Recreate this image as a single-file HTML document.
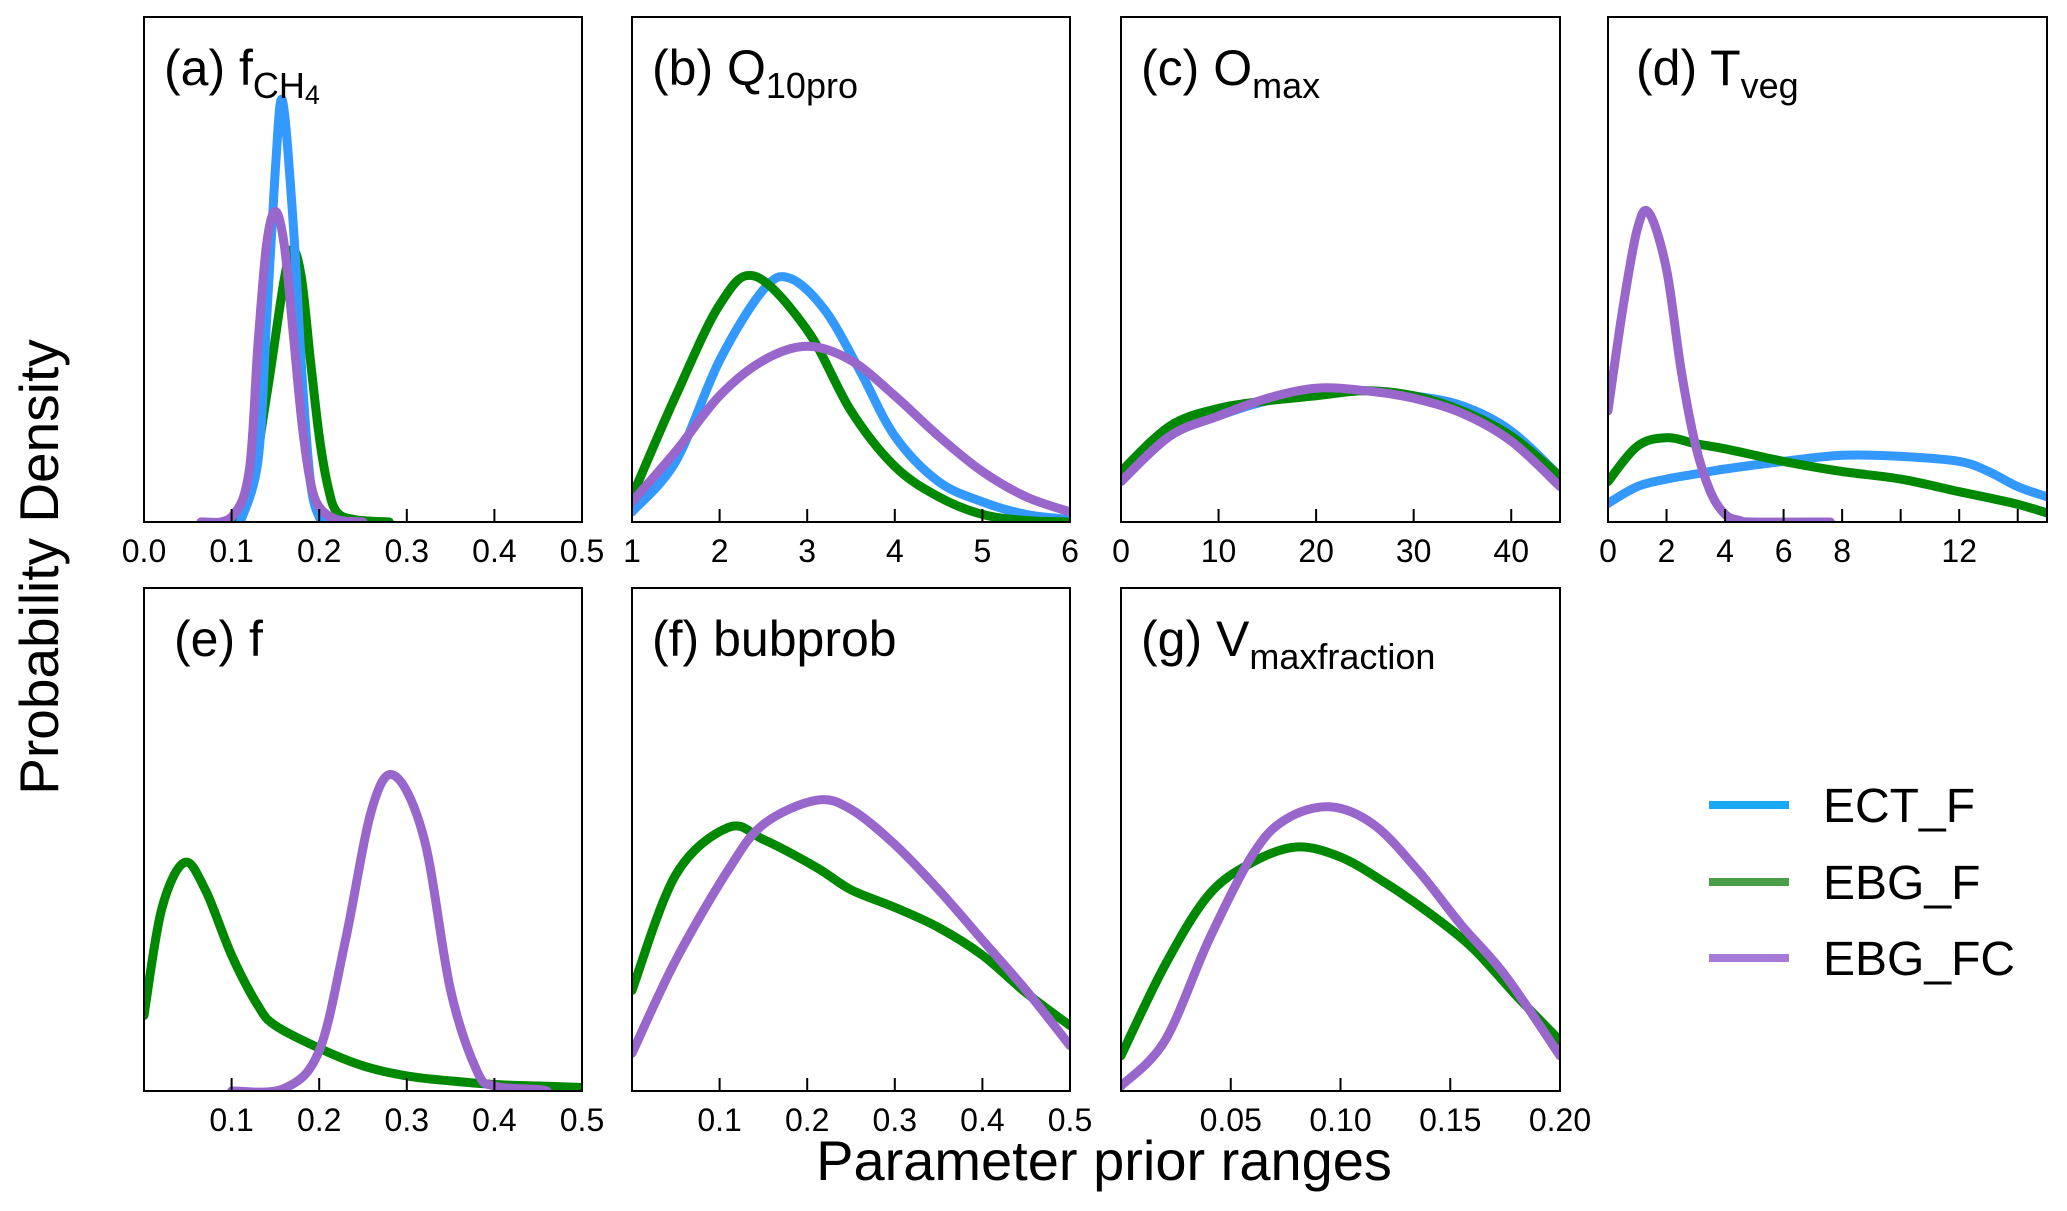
<!DOCTYPE html>
<html><head><meta charset="utf-8"><style>
html,body{margin:0;padding:0;background:#fff;}
svg{display:block;font-family:"Liberation Sans",Arial,sans-serif;}
</style></head><body>
<svg id="chart" width="2067" height="1211" viewBox="0 0 2067 1211" xmlns="http://www.w3.org/2000/svg">
<text x="1104" y="1180" font-size="56" text-anchor="middle">Parameter prior ranges</text>
<text transform="translate(58,567) rotate(-90)" font-size="55" text-anchor="middle">Probability Density</text>
<g>
<g><line x1="1709" y1="805" x2="1789" y2="805" stroke="#1aaaf5" stroke-width="8"/><text x="1823" y="822" font-size="48">ECT_F</text></g>
<g><line x1="1709" y1="882" x2="1789" y2="882" stroke="#4a9e4a" stroke-width="8"/><text x="1823" y="899" font-size="48">EBG_F</text></g>
<g><line x1="1709" y1="958" x2="1789" y2="958" stroke="#a57ad8" stroke-width="8"/><text x="1823" y="975" font-size="48">EBG_FC</text></g>
</g>
</svg>
<script>
// Panel data (x values, density as fraction of panel height)
const aX_blue=[0.11,0.13,0.14,0.15,0.158,0.17,0.18,0.19,0.2,0.21];
const aY_blue=[0,0.12,0.4,0.7,0.835,0.6,0.3,0.08,0.01,0];
const aX_green=[0.1,0.12,0.14,0.16,0.17,0.18,0.19,0.2,0.21,0.22,0.24,0.28];
const aY_green=[0,0.05,0.25,0.48,0.54,0.48,0.32,0.17,0.07,0.02,0.005,0];
const aX_purple=[0.065,0.1,0.12,0.13,0.14,0.15,0.16,0.17,0.18,0.19,0.2,0.22,0.25];
const aY_purple=[0,0.01,0.1,0.35,0.55,0.615,0.55,0.38,0.2,0.08,0.03,0.005,0];
const bX_green=[1,1.5,2,2.4,3,3.5,4,4.5,5,5.5,6];
const bY_green=[0.05,0.25,0.43,0.487,0.38,0.22,0.11,0.05,0.015,0.003,0];
const bX_blue=[1,1.5,2,2.5,2.8,3.2,3.6,4,4.5,5,5.5,6];
const bY_blue=[0.02,0.12,0.32,0.46,0.483,0.42,0.3,0.17,0.08,0.04,0.015,0.005];
const bX_purple=[1,1.5,2,2.5,3,3.5,4,4.5,5,5.5,6];
const bY_purple=[0.04,0.14,0.25,0.32,0.348,0.32,0.25,0.17,0.1,0.05,0.02];
const cX=[0,5,10,15,20,25,30,35,40,45];
const cY_blue=[0.08,0.17,0.21,0.24,0.255,0.26,0.25,0.23,0.18,0.09];
const cY_green=[0.1,0.19,0.225,0.24,0.25,0.26,0.25,0.22,0.17,0.09];
const cY_purple=[0.08,0.17,0.21,0.245,0.265,0.26,0.245,0.215,0.16,0.07];
const dX_purple=[0,0.5,1,1.4,2,2.5,3,3.5,4,4.5,5,7.6];
const dY_purple=[0.22,0.42,0.58,0.612,0.5,0.3,0.15,0.06,0.015,0.003,0,0];
const dX=[0,1,2,3,4,6,8,10,12,13,14,15];
const dY_green=[0.08,0.15,0.167,0.155,0.145,0.12,0.1,0.085,0.06,0.048,0.035,0.018];
const dY_blue=[0.037,0.07,0.085,0.095,0.105,0.12,0.132,0.13,0.12,0.1,0.07,0.05];
const eX_green=[0,0.02,0.046,0.07,0.1,0.13,0.15,0.2,0.25,0.3,0.35,0.4,0.45,0.5];
const eY_green=[0.15,0.36,0.454,0.4,0.27,0.17,0.13,0.085,0.05,0.03,0.02,0.013,0.01,0.007];
const eX_purple=[0.1,0.16,0.2,0.23,0.26,0.286,0.32,0.35,0.38,0.4,0.45,0.46];
const eY_purple=[0,0.005,0.08,0.3,0.56,0.627,0.5,0.2,0.04,0.01,0.003,0];
const fX=[0,0.05,0.11,0.15,0.21,0.25,0.3,0.35,0.4,0.45,0.5];
const fY_green=[0.2,0.43,0.524,0.5,0.445,0.4,0.365,0.325,0.27,0.195,0.13];
const fY_purple=[0.075,0.26,0.44,0.53,0.578,0.56,0.49,0.4,0.3,0.2,0.09];
const gX_green=[0,0.02,0.04,0.06,0.08,0.1,0.12,0.14,0.16,0.18,0.2];
const gY_green=[0.07,0.25,0.39,0.455,0.485,0.465,0.415,0.355,0.285,0.19,0.1];
const gX_purple=[0,0.02,0.04,0.06,0.075,0.095,0.115,0.135,0.155,0.175,0.2];
const gY_purple=[0.01,0.1,0.3,0.47,0.54,0.565,0.53,0.44,0.33,0.23,0.07];

const BLUE="#3399ff",GREEN="#008800",PURPLE="#9966cc";
const panels=[
 {id:"a",x0:144,x1:582,y0:17,y1:522,dom:[0,0.5],ticks:[0,0.1,0.2,0.3,0.4,0.5],labels:["0.0","0.1","0.2","0.3","0.4","0.5"],title:["(a) f","CH","4"],
  series:[[aX_green,aY_green,GREEN],[aX_blue,aY_blue,BLUE],[aX_purple,aY_purple,PURPLE]]},
 {id:"b",x0:632,x1:1070,y0:17,y1:522,dom:[1,6],ticks:[1,2,3,4,5,6],labels:["1","2","3","4","5","6"],title:["(b) Q","10pro"],
  series:[[bX_blue,bY_blue,BLUE],[bX_green,bY_green,GREEN],[bX_purple,bY_purple,PURPLE]]},
 {id:"c",x0:1121,x1:1560,y0:17,y1:522,dom:[0,45],ticks:[0,10,20,30,40],labels:["0","10","20","30","40"],title:["(c) O","max"],
  series:[[cX,cY_blue,BLUE],[cX,cY_green,GREEN],[cX,cY_purple,PURPLE]]},
 {id:"d",x0:1608,x1:2047,y0:17,y1:522,dom:[0,15],ticks:[0,2,4,6,8,10,12,14],labels:["0","2","4","6","8","","12",""],title:["(d) T","veg"],
  series:[[dX,dY_blue,BLUE],[dX,dY_green,GREEN],[dX_purple,dY_purple,PURPLE]]},
 {id:"e",x0:144,x1:582,y0:588,y1:1091,dom:[0,0.5],ticks:[0.1,0.2,0.3,0.4,0.5],labels:["0.1","0.2","0.3","0.4","0.5"],title:["(e) f",""],
  series:[[eX_green,eY_green,GREEN],[eX_purple,eY_purple,PURPLE]]},
 {id:"f",x0:632,x1:1070,y0:588,y1:1091,dom:[0,0.5],ticks:[0.1,0.2,0.3,0.4,0.5],labels:["0.1","0.2","0.3","0.4","0.5"],title:["(f) bubprob",""],
  series:[[fX,fY_green,GREEN],[fX,fY_purple,PURPLE]]},
 {id:"g",x0:1121,x1:1560,y0:588,y1:1091,dom:[0,0.2],ticks:[0.05,0.1,0.15,0.2],labels:["0.05","0.10","0.15","0.20"],title:["(g) V","maxfraction"],
  series:[[gX_green,gY_green,GREEN],[gX_purple,gY_purple,PURPLE]]}
];
const NS="http://www.w3.org/2000/svg";
const svg=document.getElementById("chart");
function mk(t,a,p){const e=document.createElementNS(NS,t);for(const k in a)e.setAttribute(k,a[k]);(p||svg).appendChild(e);return e;}
function path(pts){let d="M"+pts[0][0].toFixed(1)+","+pts[0][1].toFixed(1);
 for(let i=0;i<pts.length-1;i++){const p0=pts[i-1]||pts[i],p1=pts[i],p2=pts[i+1],p3=pts[i+2]||p2;
  const c1=[p1[0]+(p2[0]-p0[0])/6,p1[1]+(p2[1]-p0[1])/6],c2=[p2[0]-(p3[0]-p1[0])/6,p2[1]-(p3[1]-p1[1])/6];
  d+=" C"+c1[0].toFixed(1)+","+c1[1].toFixed(1)+" "+c2[0].toFixed(1)+","+c2[1].toFixed(1)+" "+p2[0].toFixed(1)+","+p2[1].toFixed(1);}
 return d;}
panels.forEach(p=>{
 const g=mk("g",{});
 
 
 const sx=v=>p.x0+(v-p.dom[0])/(p.dom[1]-p.dom[0])*(p.x1-p.x0);
 const sy=v=>p.y1-v*(p.y1-p.y0);
 const cid="clip"+p.id;
 const cp=mk("clipPath",{id:cid},g);mk("rect",{x:p.x0,y:p.y0,width:p.x1-p.x0,height:p.y1-p.y0},cp);
 const lg=mk("g",{"clip-path":"url(#"+cid+")"},g);
 p.series.forEach((s,i)=>{
  const pts=s[0].map((x,j)=>[sx(x),sy(s[1][j])]);
  const pe=mk("path",{d:path(pts),fill:"none",stroke:s[2],"stroke-width":9,"stroke-linejoin":"round","stroke-linecap":"round"},lg);
  
  
 });
 const fr=mk("rect",{x:p.x0,y:p.y0,width:p.x1-p.x0,height:p.y1-p.y0,fill:"none",stroke:"#000","stroke-width":2},g);
 
 
 p.ticks.forEach((t,i)=>{
  const x=sx(t);
  if(x>p.x0+2&&x<p.x1-2) mk("line",{x1:x,y1:p.y1,x2:x,y2:p.y1-13,stroke:"#000","stroke-width":2},g);
  if(p.labels[i]){const tx=mk("text",{x:x,y:p.y1+40,"font-size":32,"text-anchor":"middle"},g);tx.textContent=p.labels[i];
   
   }
 });
 const tt=mk("text",{x:p.x0+(p.id==="e"?30:p.id==="d"?28:p.id==="c"?20:20),y:p.y0+68,"font-size":50},g);
 
 
 const s1=mk("tspan",{},tt);s1.textContent=p.title[0];
 if(p.title[1]){const s2=mk("tspan",{"font-size":36,dy:13},tt);s2.textContent=p.title[1];}
 if(p.title[2]){const s3=mk("tspan",{"font-size":27,dy:6},tt);s3.textContent=p.title[2];}
});
</script>
</body></html>
